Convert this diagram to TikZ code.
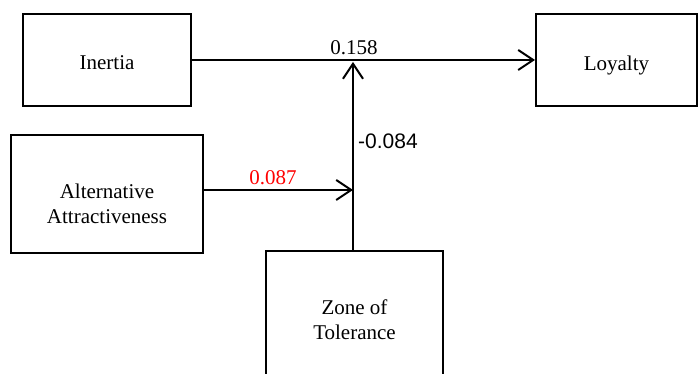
\documentclass[tikz,border=0pt]{standalone}
\usepackage{fontspec}
\setmainfont{Liberation Serif}
\newfontfamily\arialfont{Liberation Sans}
\usepackage{tikz}
\usetikzlibrary{arrows.meta, positioning}

\begin{document}
\begin{tikzpicture}[
        x=0.5pt, y=-0.5pt,
        varbox/.style = {rectangle, draw=black, line width=1pt, inner sep=0pt},
        boxtext/.style = {align=center, inner sep=0pt, font=\fontsize{10.5}{12.5}\selectfont},
        path/.style = {line width=1pt, -{Straight Barb[length=7.5pt, width=10pt, line width=1pt]}},
        coef/.style = {inner sep=0pt, font=\fontsize{10.5}{12.5}\selectfont}
    ]

    \useasboundingbox (0,0) rectangle (698,374);
    \clip (0,0) rectangle (698,374);

    % constructs
    \node [varbox, minimum width=84pt, minimum height=46pt,
        label={[boxtext, yshift=-1.5pt]center:Inertia}] (inertia) at (107,60) {};
    \node [varbox, minimum width=80.5pt, minimum height=46pt,
        label={[boxtext, yshift=-2.5pt]center:Loyalty}] (loyalty) at (616.5,60) {};
    \node [varbox, minimum width=96pt, minimum height=59pt,
        label={[boxtext, yshift=-5pt]center:Alternative\\Attractiveness}] (alt) at (107,194) {};
    \node [varbox, minimum width=88.5pt, minimum height=69pt,
        label={[boxtext]center:Zone of\\Tolerance}] (zone) at (354.5,320) {};

    % moderation points
    \coordinate (top) at (353,62);
    \coordinate (join) at (353,190);

    % paths
    \draw [path] (inertia) -- (loyalty);
    \draw [path] (zone.north -| join) -- (top);
    \draw [path] (alt.east |- join) -- (join);

    % coefficients
    \node [coef] (b1) at (354,48) {0.158};
    \node [coef, font=\arialfont\fontsize{10.5}{12.5}\selectfont] (b2) at (388,141) {-0.084};
    \node [coef, text=red] (b3) at (273,178) {0.087};

\end{tikzpicture}
\end{document}
